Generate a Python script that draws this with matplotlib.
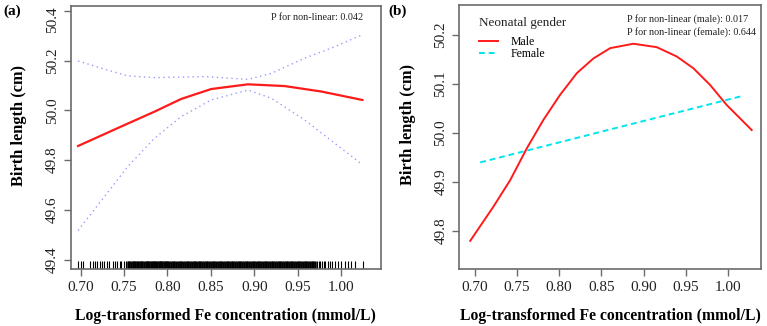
import numpy as np
import matplotlib
matplotlib.use("Agg")
import matplotlib.pyplot as plt

plt.rcParams['font.family'] = ['Liberation Serif', 'DejaVu Serif']

# ---- panel (a): overall RCS curve with 95% CI ----
a_x = [0.697, 0.7465, 0.785, 0.8157, 0.8503, 0.8927, 0.9349, 0.9773, 1.0246]
a_fit = [49.857, 49.935, 49.995, 50.046, 50.086, 50.105, 50.098, 50.076, 50.042]

a_up_x = [0.697, 0.7273, 0.7542, 0.785, 0.8426, 0.8927, 0.9196, 0.958, 0.9926, 1.0234]
a_up = [50.199, 50.166, 50.139, 50.132, 50.136, 50.125, 50.149, 50.210, 50.256, 50.303]

a_lo_x = [0.697, 0.7273, 0.7542, 0.785, 0.8157, 0.8503, 0.8927, 0.9196,
          0.958, 0.9926, 1.0234]
a_lo = [49.517, 49.653, 49.774, 49.888, 49.975, 50.042, 50.082, 50.049,
        49.962, 49.868, 49.785]

# observed exposure values (rug)
rug_x = [0.697, 0.700, 0.703, 0.711, 0.714, 0.717, 0.719, 0.722, 0.724, 0.727,
         0.730, 0.733, 0.737, 0.740, 0.742, 0.745, 0.747, 0.750, 0.752,
         0.754, 0.756, 0.758, 0.760, 0.761, 0.763, 0.765, 0.766, 0.768, 0.770,
         0.771, 0.773, 0.775, 0.776, 0.778, 0.779, 0.781, 0.782, 0.784, 0.785,
         0.787, 0.788, 0.790, 0.791, 0.793, 0.794, 0.796, 0.797, 0.799,
         0.800, 0.802, 0.804, 0.806, 0.808, 0.810, 0.812, 0.814, 0.816, 0.818,
         0.820, 0.822, 0.824, 0.826, 0.828, 0.830, 0.832, 0.834, 0.836, 0.838,
         0.840, 0.842, 0.844, 0.846, 0.848, 0.850, 0.852, 0.854, 0.856, 0.858,
         0.860, 0.862, 0.864, 0.866, 0.868, 0.870, 0.872, 0.874, 0.876, 0.878,
         0.880, 0.882, 0.884, 0.886, 0.888, 0.890, 0.892, 0.894, 0.896, 0.898,
         0.900, 0.902, 0.904, 0.906, 0.908, 0.910, 0.912, 0.914, 0.916, 0.918,
         0.920, 0.922, 0.924, 0.926, 0.928, 0.930, 0.932, 0.934, 0.936, 0.938,
         0.940, 0.942, 0.944, 0.946, 0.948, 0.950, 0.952, 0.954, 0.956, 0.958,
         0.960, 0.962, 0.964, 0.966, 0.968, 0.970,
         0.972, 0.974, 0.976, 0.978, 0.980, 0.982, 0.985, 0.987, 0.990, 0.993,
         0.996, 1.000, 1.004, 1.008, 1.012, 1.016, 1.025]

# ---- panel (b): by neonatal gender ----
male_x = [0.6949, 0.7224, 0.7422, 0.7619, 0.7815, 0.8012, 0.8209, 0.8405,
          0.8603, 0.8878, 0.9154, 0.9390, 0.9587, 0.9784, 0.9981, 1.0276]
male_y = [49.780, 49.850, 49.904, 49.969, 50.027, 50.078, 50.122, 50.152,
          50.173, 50.182, 50.175, 50.156, 50.132, 50.098, 50.057, 50.006]

female_x = [0.7067, 1.0177]
female_y = [49.940, 50.076]

W, H = 767, 326
fig = plt.figure(figsize=(W / 100, H / 100), dpi=100)

def px(x0, y0, x1, y1):
    return [x0 / W, 1 - y1 / H, (x1 - x0) / W, (y1 - y0) / H]

frame_col = '#6b6b6b'

def style(ax):
    for s in ax.spines.values():
        s.set_color(frame_col)
        s.set_linewidth(1.2)
    ax.tick_params(axis='both', colors=frame_col, length=5, width=1,
                   labelcolor='#222222', labelsize=11)
    plt.setp(ax.get_yticklabels(), rotation=90, va='center')
    ax.set_xticks([0.70, 0.75, 0.80, 0.85, 0.90, 0.95, 1.00])
    ax.set_xticklabels(['0.70', '0.75', '0.80', '0.85', '0.90', '0.95', '1.00'])
    ax.set_xlabel('Log-transformed Fe concentration (mmol/L)', fontsize=11.3,
                  fontweight='bold', labelpad=10)
    ax.set_ylabel('Birth length (cm)', fontsize=11.8, fontweight='bold')

# (a)
ax1 = fig.add_axes(px(70.7, 6, 381, 269.3))
ax1.plot(a_up_x, a_up, color='#9a9aff', lw=1, ls=(0, (1, 2.5)))
ax1.plot(a_lo_x, a_lo, color='#9a9aff', lw=1, ls=(0, (1, 2.5)))
ax1.plot(a_x, a_fit, color='#ff1a1a', lw=1.6)
# thin ticks where the rug is sparse, thicker where it merges into a band
rug_lw = [1.8 if 0.753 < v < 0.971 else 0.8 for v in rug_x]
ax1.vlines(rug_x, 49.361, 49.393, color='black', linewidths=rug_lw)
ax1.set_xlim(0.6885, 1.046)
ax1.set_ylim(49.361, 50.42)
ax1.set_yticks([49.4, 49.6, 49.8, 50.0, 50.2, 50.4])
ax1.set_yticklabels(['49.4', '49.6', '49.8', '50.0', '50.2', ''])
style(ax1)
# top label pushed inside the figure, as R does
ax1.annotate('50.4', xy=(0, 50.4), xycoords=('axes fraction', 'data'),
             xytext=(-12, -9), textcoords='offset pixels', rotation=90,
             ha='right', va='center', fontsize=11, color='#222222')
ax1.yaxis.set_label_coords(-0.141, 0.548)
ax1.text(0.942, 0.958, 'P for non-linear: 0.042', transform=ax1.transAxes,
         ha='right', va='center', fontsize=7.3, color='#222222')

# (b)
ax2 = fig.add_axes(px(459.3, 5, 761, 269.3))
ax2.plot(male_x, male_y, color='#ff1a1a', lw=1.4, label='Male')
ax2.plot(female_x, female_y, color='#00e5ee', lw=1.4, ls=(0, (3, 2)), label='Female')
ax2.set_xlim(0.682, 1.0386)
ax2.set_ylim(49.722, 50.261)
ax2.set_yticks([49.8, 49.9, 50.0, 50.1, 50.2])
ax2.set_yticklabels(['49.8', '49.9', '50.0', '50.1', '50.2'])
style(ax2)
ax2.yaxis.set_label_coords(-0.1435, 0.546)
ax2.text(0.065, 0.932, 'Neonatal gender', transform=ax2.transAxes,
         ha='left', va='center', fontsize=9.5, color='#222222')
ax2.legend(loc='upper left', bbox_to_anchor=(0.065, 0.882), frameon=False,
           fontsize=8.5, handlelength=1.6, handletextpad=1.1, labelspacing=0.0,
           borderpad=0, borderaxespad=0)
ax2.text(0.555, 0.924, 'P for non-linear (male): 0.017\nP for non-linear (female): 0.644',
         transform=ax2.transAxes, ha='left', va='center', fontsize=7.3,
         color='#222222', linespacing=1.4)

fig.text(3 / W, 1 - 11 / H, '(a)', fontsize=11, fontweight='bold', va='center')
fig.text(388 / W, 1 - 11 / H, '(b)', fontsize=11, fontweight='bold', va='center')

fig.savefig('out.png', dpi=100)
